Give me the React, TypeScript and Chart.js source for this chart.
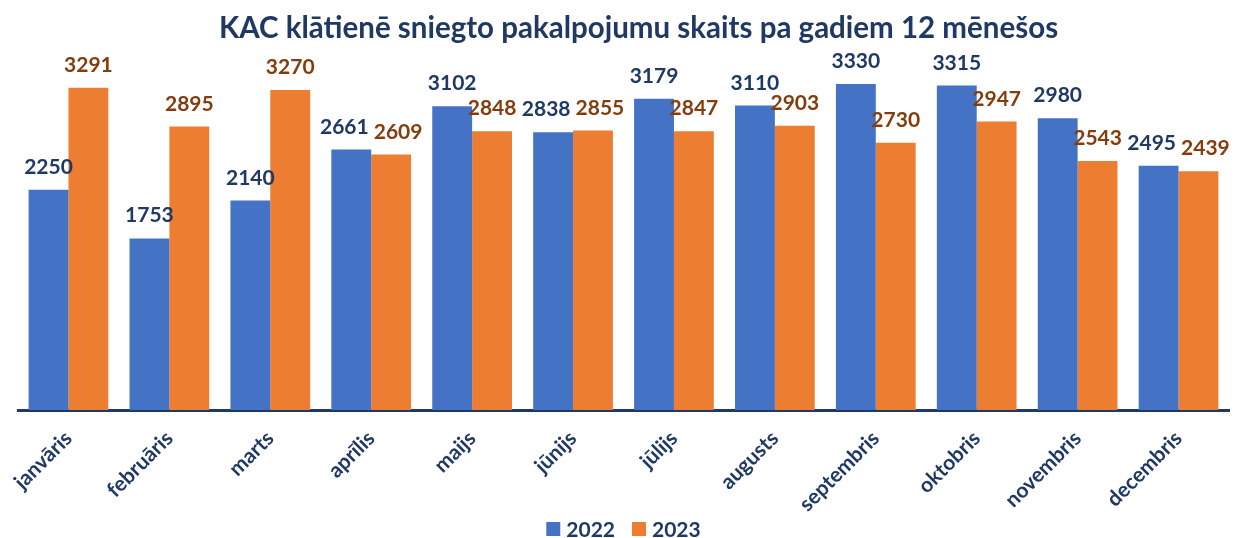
import React, { useEffect, useRef } from "react";
import { Chart, registerables } from "chart.js";

Chart.register(...registerables);

const months = ["janvāris", "februāris", "marts", "aprīlis", "maijs", "jūnijs", "jūlijs", "augusts", "septembris", "oktobris", "novembris", "decembris"];
const values2022 = [2250, 1753, 2140, 2661, 3102, 2838, 3179, 3110, 3330, 3315, 2980, 2495];
const values2023 = [3291, 2895, 3270, 2609, 2848, 2855, 2847, 2903, 2730, 2947, 2543, 2439];
const seriesNames = ["2022", "2023"];
const titleText = "KAC klātienē sniegto pakalpojumu skaits pa gadiem 12 mēnešos";

const NAVY = "#1F3864";
const BROWN = "#843C0C";
const BLUE = "#4472C4";
const ORANGE = "#ED7D31";
const FONT = "Lato, 'Noto Sans', sans-serif";

const labelPlugin = {
  id: "barLabels",
  afterDatasetsDraw(chart: any) {
    const ctx = chart.ctx;
    const colors = [NAVY, BROWN];
    ctx.save();
    ctx.font = `bold 21px ${FONT}`;
    ctx.textAlign = "center";
    ctx.textBaseline = "alphabetic";
    const m0 = chart.getDatasetMeta(0);
    const m1 = chart.getDatasetMeta(1);
    const d0 = chart.data.datasets[0].data;
    const d1 = chart.data.datasets[1].data;
    for (let i = 0; i < d0.length; i++) {
      const a = m0.data[i];
      const b = m1.data[i];
      const ta = String(d0[i]);
      const tb = String(d1[i]);
      let xa = a.x;
      let xb = b.x;
      const ya = a.y - 16;
      const yb = b.y - 16;
      const wa = ctx.measureText(ta).width;
      const wb = ctx.measureText(tb).width;
      if (Math.abs(ya - yb) < 20) {
        const gap = xb - wb / 2 - (xa + wa / 2);
        if (gap < 5) {
          const need = 5 - gap;
          xa -= need / 2;
          xb += need / 2;
        }
      }
      ctx.fillStyle = colors[0];
      ctx.fillText(ta, xa, ya);
      ctx.fillStyle = colors[1];
      ctx.fillText(tb, xb, yb);
    }
    ctx.restore();
  },
};

const titlePlugin = {
  id: "shiftedTitle",
  afterDraw(chart: any) {
    const ctx = chart.ctx;
    ctx.save();
    ctx.font = `bold 29.5px ${FONT}`;
    ctx.fillStyle = NAVY;
    ctx.textAlign = "center";
    ctx.textBaseline = "middle";
    ctx.fillText(titleText, chart.width / 2 + 19, 28);
    ctx.restore();
  },
};

const legendPlugin = {
  id: "bottomLegend",
  afterDraw(chart: any) {
    const ctx = chart.ctx;
    ctx.save();
    ctx.font = `bold 21px ${FONT}`;
    ctx.textBaseline = "middle";
    ctx.textAlign = "left";
    const box = 14;
    const gapBoxText = 6;
    const gapItems = 17;
    const items = chart.data.datasets.map((ds: any) => ({
      label: ds.label,
      color: ds.backgroundColor,
      w: box + gapBoxText + ctx.measureText(ds.label).width,
    }));
    const total = items.reduce((s: number, it: any) => s + it.w, 0) + gapItems * (items.length - 1);
    let x = (chart.chartArea.left + chart.chartArea.right) / 2 - total / 2;
    const y = chart.height - 9;
    items.forEach((it: any) => {
      ctx.fillStyle = it.color;
      ctx.fillRect(x, y - box / 2, box, box);
      ctx.fillStyle = NAVY;
      ctx.fillText(it.label, x + box + gapBoxText, y + 1);
      x += it.w + gapItems;
    });
    ctx.restore();
  },
};

export default function App() {
  const ref = useRef<HTMLCanvasElement>(null);
  useEffect(() => {
    if (!ref.current) return;
    const chart = new Chart(ref.current, {
      type: "bar",
      data: {
        labels: months,
        datasets: [
          { label: seriesNames[0], data: values2022, backgroundColor: BLUE, borderWidth: 0 },
          { label: seriesNames[1], data: values2023, backgroundColor: ORANGE, borderWidth: 0 },
        ],
      },
      options: {
        responsive: false,
        animation: false,
        layout: { padding: { left: 18, right: 10, top: 0, bottom: 25 } },
        datasets: { bar: { categoryPercentage: 0.79, barPercentage: 1.0 } },
        scales: {
          x: {
            grid: { display: false, drawTicks: false },
            border: { display: true, color: "#203864", width: 3 },
            ticks: {
              color: NAVY,
              font: { family: FONT, size: 21, weight: "bold" },
              maxRotation: 45,
              minRotation: 45,
              padding: 16,
            },
            afterFit: (scale: any) => {
              scale.height = 103;
            },
          },
          y: {
            display: false,
            min: 0,
            max: 3500,
          },
        },
        plugins: {
          title: {
            display: true,
            text: titleText,
            color: "rgba(0,0,0,0)",
            font: { family: FONT, size: 29.5, weight: "bold" },
            padding: { top: 10, bottom: 22 },
          },
          legend: { display: false },
          tooltip: { enabled: false },
        },
      },
      plugins: [labelPlugin, titlePlugin, legendPlugin],
    });
    return () => chart.destroy();
  }, []);
  return (
    <div style={{ position: "fixed", left: 0, top: 0, width: 1239, height: 538, background: "#fff" }}>
      <canvas ref={ref} width={1239} height={538} style={{ width: 1239, height: 538 }} />
    </div>
  );
}
